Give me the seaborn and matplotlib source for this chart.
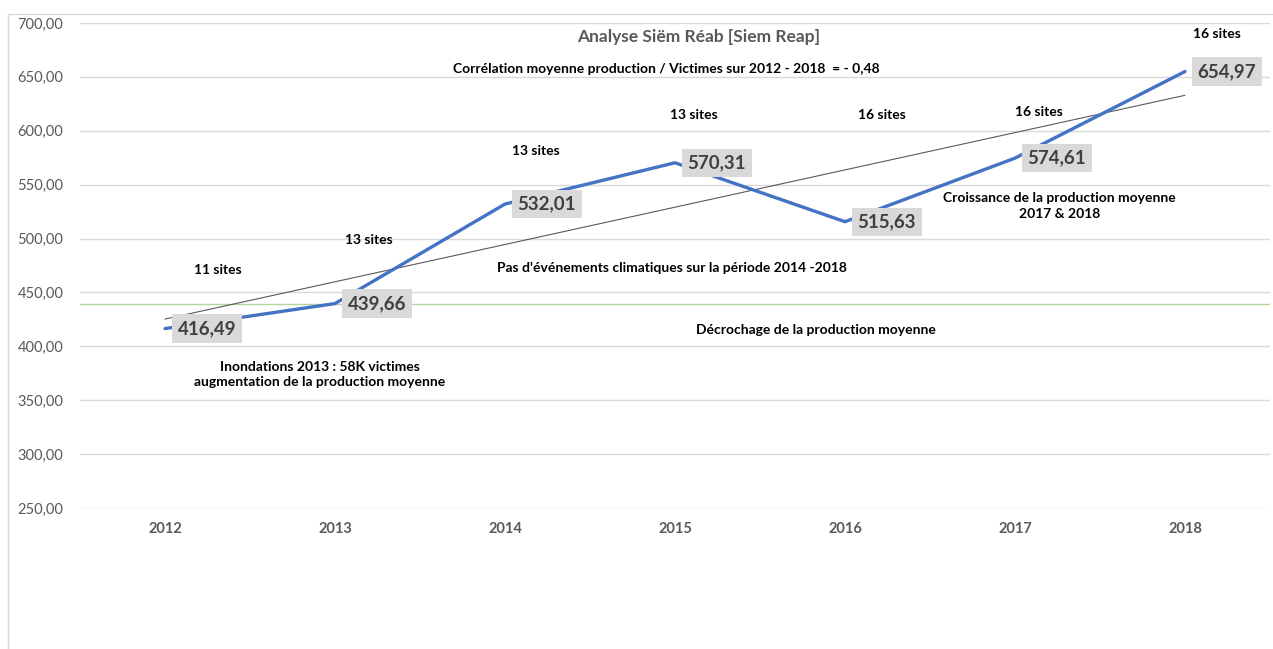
import matplotlib
matplotlib.use("Agg")
import matplotlib.pyplot as plt
import seaborn as sns
import pandas as pd
import numpy as np
from matplotlib.ticker import FuncFormatter, FixedLocator
from matplotlib.patches import Rectangle

years = ["2012", "2013", "2014", "2015", "2016", "2017", "2018"]
production = [416.49, 439.66, 532.01, 570.31, 515.63, 574.61, 654.97]
sites = ["11 sites", "13 sites", "13 sites", "13 sites", "16 sites", "16 sites", "16 sites"]
sites_y = [471, 499, 581, 615, 615, 617, 690]
sites_dx = [0.31, 0.20, 0.18, 0.11, 0.22, 0.14, 0.19]
green_level = 439.0
y_ticks = [250, 300, 350, 400, 450, 500, 550, 600, 650, 700]

sns.set_theme(style="white")
plt.rcParams["font.family"] = ["Lato", "DejaVu Sans"]

df = pd.DataFrame({"x": np.arange(len(years)), "year": years, "production": production})

fig = plt.figure(figsize=(12.73, 6.49), dpi=100)
ax = fig.add_axes([80 / 1273, 1 - 508 / 649, 1190 / 1273, 485 / 649])

# chart border
fig.patches.append(Rectangle((8 / 1273, -0.1), 1.2, 1 - 14 / 649 + 0.1, transform=fig.transFigure,
                             fill=False, edgecolor="#d9d9d9", linewidth=1.0, zorder=0))

ax.set_xlim(-0.5, len(years) - 0.5)
ax.set_ylim(250, 700)
ax.yaxis.set_major_locator(FixedLocator(y_ticks))
ax.yaxis.set_major_formatter(FuncFormatter(lambda v, p: f"{v:.2f}".replace(".", ",")))
ax.set_xticks(df["x"])
ax.set_xticklabels(years, fontweight="bold")
ax.grid(axis="y", color="#d9d9d9", linewidth=1.0)
ax.set_axisbelow(True)
for s in ax.spines.values():
    s.set_visible(False)
ax.tick_params(axis="y", colors="#595959", labelsize=10.5, pad=12, length=0)
ax.tick_params(axis="x", colors="#595959", labelsize=10.5, pad=10, length=0)

# green reference line
ax.axhline(green_level, color="#b4d49c", linewidth=1.0, zorder=1)

# trend line
sns.regplot(data=df, x="x", y="production", scatter=False, ci=None, ax=ax,
            line_kws=dict(color="#595959", linewidth=0.8, zorder=2), truncate=True)

# main line
sns.lineplot(data=df, x="x", y="production", ax=ax, color="#4472c4", linewidth=2.4, zorder=3)
ax.set_xlabel("")
ax.set_ylabel("")

# value labels
for xi, v in zip(df["x"], production):
    ax.annotate(f"{v:.2f}".replace(".", ","), (xi, v), xytext=(9, 0), textcoords="offset points",
                ha="left", va="center", fontsize=13.5, fontweight="bold", color="#404040",
                bbox=dict(boxstyle="square,pad=0.3", facecolor="#d9d9d9", edgecolor="none"), zorder=5)

# sites labels
for xi, s, yy, dx in zip(df["x"], sites, sites_y, sites_dx):
    ax.text(xi + dx, yy, s, ha="center", va="center", fontsize=10, fontweight="bold", color="black")

# annotations
ax.text(3.14, 687, "Analyse Siëm Réab [Siem Reap]", ha="center", va="center", fontsize=12.5,
        fontweight="bold", color="#595959")
ax.text(2.95, 657, "Corrélation moyenne production / Victimes sur 2012 - 2018  = - 0,48",
        ha="center", va="center", fontsize=10, fontweight="bold", color="black")
ax.text(0.91, 374, "Inondations 2013 : 58K victimes\naugmentation de la production moyenne",
        ha="center", va="center", fontsize=10, fontweight="bold", color="black", linespacing=1.35)
ax.text(2.98, 473, "Pas d'événements climatiques sur la période 2014 -2018",
        ha="center", va="center", fontsize=10, fontweight="bold", color="black")
ax.text(3.83, 415, "Décrochage de la production moyenne",
        ha="center", va="center", fontsize=10, fontweight="bold", color="black")
ax.text(5.26, 530, "Croissance de la production moyenne\n2017 & 2018",
        ha="center", va="center", fontsize=10, fontweight="bold", color="black", linespacing=1.35)

fig.savefig("out.png", dpi=100)
